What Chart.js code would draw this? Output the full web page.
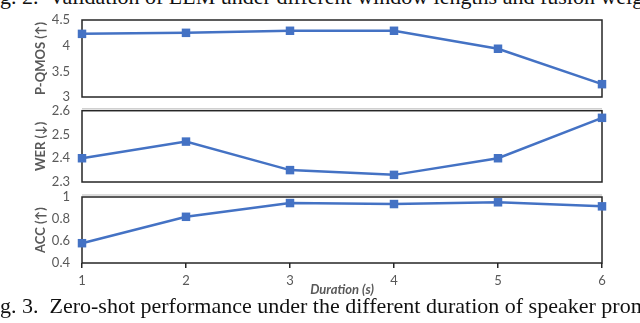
<!DOCTYPE html>
<html>
<head>
<meta charset="utf-8">
<script src="https://cdn.jsdelivr.net/npm/chart.js@4.4.1/dist/chart.umd.min.js"></script>
<style>
  html, body { margin: 0; padding: 0; background: #fff; }
  body { width: 640px; height: 323px; position: relative; overflow: hidden; }
  .cv { position: absolute; left: 0; width: 640px; }
  .cap { position: absolute; left: 0; white-space: nowrap; font-family: "Liberation Serif", serif; font-size: 22px; line-height: 25px; color: #111; }
</style>
</head>
<body>
<div class="cap" id="capTop" style="top:-16px;">g. 2.&nbsp; Validation of LLM under different window lengths and fusion weig</div>
<div class="cv" style="top:0px;height:105px;"><canvas id="c1" width="640" height="105"></canvas></div>
<div class="cv" style="top:100px;height:90px;"><canvas id="c2" width="640" height="90"></canvas></div>
<div class="cv" style="top:185px;height:115px;"><canvas id="c3" width="640" height="115"></canvas></div>
<div class="cap" id="capBot" style="top:293px;">g. 3.&nbsp; Zero-shot performance under the different duration of speaker prom</div>
<script>
const durations = ['1', '2', '3', '4', '5', '6'];
const pqmos = [4.23, 4.25, 4.29, 4.29, 3.94, 3.25];
const wer = [2.40, 2.47, 2.35, 2.33, 2.40, 2.57];
const acc = [0.58, 0.82, 0.945, 0.936, 0.952, 0.915];

const BLUE = '#4472C4';
const GRAY = '#595959';
const FONT = 'Lato, "Liberation Sans", sans-serif';

const boxPlugin = {
  id: 'box',
  afterDatasetsDraw(chart, args, opts) {
    const a = chart.chartArea, ctx = chart.ctx;
    ctx.save();
    if (opts.topLine) {
      ctx.strokeStyle = '#d0d0d0';
      ctx.lineWidth = 1.5;
      ctx.beginPath();
      ctx.moveTo(a.left, a.top - 2);
      ctx.lineTo(a.right, a.top - 2);
      ctx.stroke();
    }
    ctx.restore();
  },
  beforeDatasetsDraw(chart) {
    const a = chart.chartArea, ctx = chart.ctx;
    ctx.save();
    ctx.strokeStyle = '#262626';
    ctx.lineWidth = 1.5;
    ctx.strokeRect(a.left, a.top, a.right - a.left, a.bottom - a.top);
    ctx.restore();
  }
};

function make(id, data, label, min, max, step, padTop, padBottom, showX, topLine) {
  const xScale = showX ? {
    type: 'category',
    offset: false,
    grid: { display: true, drawOnChartArea: false, drawTicks: true, tickLength: 5, color: '#262626', lineWidth: 1.5 },
    border: { display: false },
    ticks: { color: GRAY, font: { family: FONT, size: 13 }, padding: 5, maxRotation: 0 },
    title: { display: true, text: 'Duration (s)', color: GRAY, font: { family: FONT, size: 13, weight: 'bold', style: 'italic' }, padding: { top: 0, bottom: 2 } },
    afterFit(s) { s.height = 37; s.paddingLeft = 0; s.paddingRight = 0; }
  } : { type: 'category', offset: false, display: false };
  return new Chart(document.getElementById(id), {
    type: 'line',
    data: {
      labels: durations,
      datasets: [{
        data: data,
        borderColor: BLUE,
        backgroundColor: BLUE,
        borderWidth: 2.5,
        pointStyle: 'rect',
        pointRadius: 6,
        pointHoverRadius: 6,
        pointBorderWidth: 0,
        tension: 0,
        clip: false
      }]
    },
    options: {
      responsive: false,
      animation: false,
      events: [],
      layout: { padding: { left: 0, right: 38, top: padTop, bottom: padBottom } },
      plugins: { legend: { display: false }, tooltip: { enabled: false }, box: { topLine: topLine } },
      scales: {
        x: xScale,
        y: {
          min: min, max: max,
          grid: { display: false, drawTicks: false },
          border: { display: false },
          ticks: { stepSize: step, color: GRAY, font: { family: FONT, size: 13 }, padding: 12,
                   callback: v => String(+(+v).toFixed(2)) },
          title: { display: true, text: label, color: GRAY, font: { family: FONT, size: 13, weight: 'bold' }, padding: { top: 33, bottom: 0 } },
          afterFit(s) { s.width = 82; s.paddingTop = 0; s.paddingBottom = 0; }
        }
      }
    },
    plugins: [boxPlugin]
  });
}

make('c1', pqmos, 'P-QMOS (↑)', 3, 4.5, 0.5, 20, 8, false, false);
make('c2', wer, 'WER (↓)', 2.3, 2.6, 0.1, 10.7, 8, false, true);
make('c3', acc, 'ACC (↑)', 0.4, 1, 0.2, 12, 0, true, true);
</script>
</body>
</html>
